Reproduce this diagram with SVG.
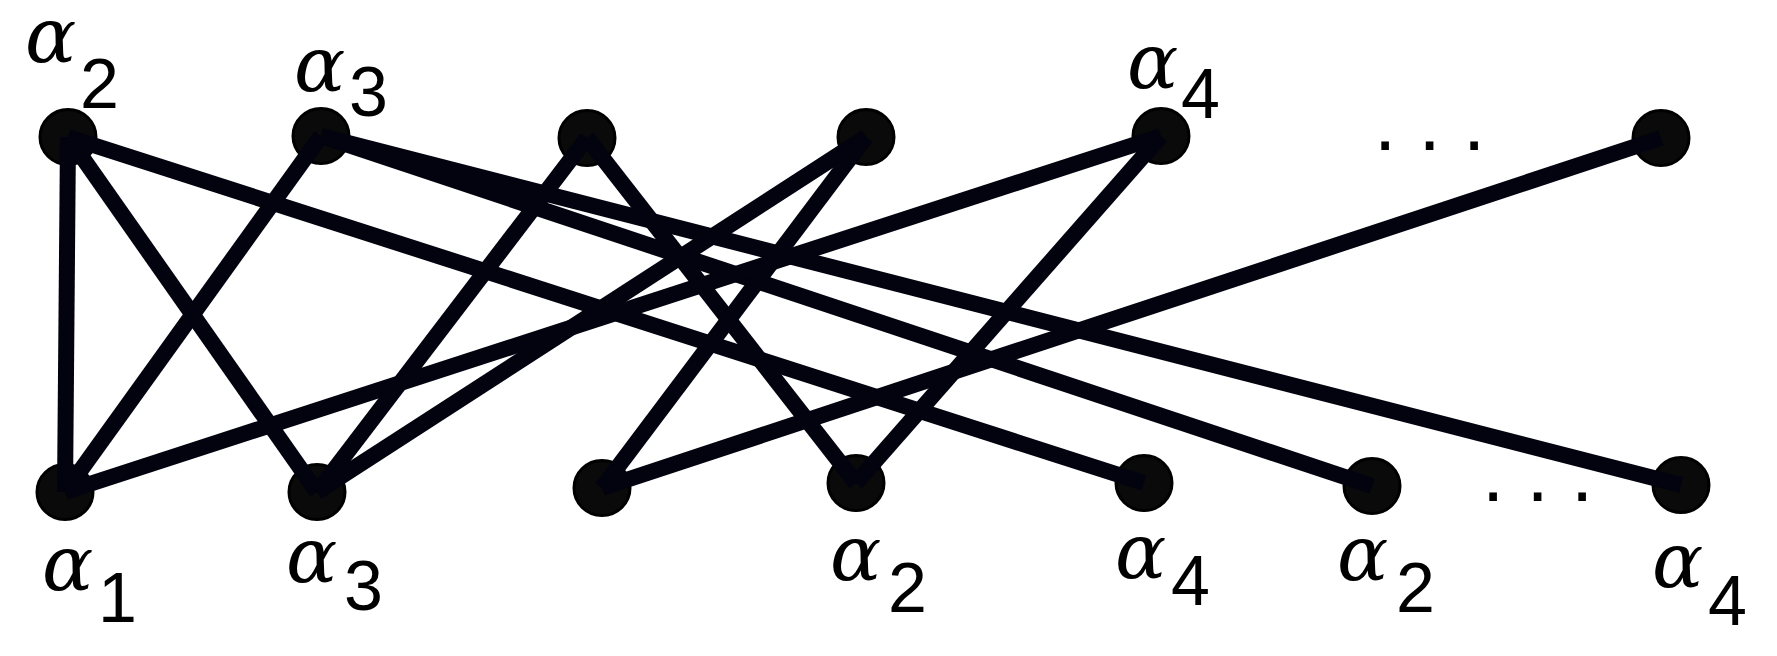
<svg xmlns="http://www.w3.org/2000/svg" width="1777" height="656" viewBox="0 0 1777 656">
<style>
.node{fill:#0a0a0a;stroke:#000;stroke-width:3}
.edge{stroke:#03030f;stroke-width:16;stroke-linecap:butt;fill:none}
.a{font-family:"DejaVu Serif","Liberation Serif",serif;font-style:italic;font-size:76px;fill:#000}
.d{font-family:"Liberation Sans",Arial,sans-serif;font-size:70px;fill:#000}
.dots{font-family:"Liberation Sans",Arial,sans-serif;font-size:80px;fill:#000}
</style>
<rect width="1777" height="656" fill="#fff"/>
<g id="T1"><ellipse class="node" cx="68" cy="137" rx="28" ry="27.5"/><text class="a" x="25" y="62">α</text><text class="d" x="80" y="108">2</text></g>
<g id="T2"><ellipse class="node" cx="321" cy="136" rx="28" ry="27.5"/><text class="a" x="294" y="91">α</text><text class="d" x="349" y="116">3</text></g>
<g id="T3"><ellipse class="node" cx="587" cy="138" rx="28" ry="27.5"/></g>
<g id="T4"><ellipse class="node" cx="866" cy="137" rx="28" ry="27.5"/></g>
<g id="T5"><ellipse class="node" cx="1161" cy="136" rx="28" ry="27.5"/><text class="a" x="1127" y="88">α</text><text class="d" x="1181" y="118">4</text></g>
<g id="T6"><ellipse class="node" cx="1661" cy="138" rx="28" ry="27.5"/></g>
<g id="B1"><ellipse class="node" cx="65" cy="492" rx="28" ry="27.5"/><text class="a" x="42" y="590">α</text><text class="d" x="98" y="622">1</text></g>
<g id="B2"><ellipse class="node" cx="317" cy="492" rx="28" ry="27.5"/><text class="a" x="286" y="582">α</text><text class="d" x="344" y="610">3</text></g>
<g id="B3"><ellipse class="node" cx="602" cy="488" rx="28" ry="27.5"/></g>
<g id="B4"><ellipse class="node" cx="856" cy="483" rx="28" ry="27.5"/><text class="a" x="830" y="580">α</text><text class="d" x="888" y="612">2</text></g>
<g id="B5"><ellipse class="node" cx="1144" cy="483" rx="28" ry="27.5"/><text class="a" x="1115" y="578">α</text><text class="d" x="1171" y="605">4</text></g>
<g id="B6"><ellipse class="node" cx="1372" cy="486" rx="28" ry="27.5"/><text class="a" x="1337" y="580">α</text><text class="d" x="1396" y="612">2</text></g>
<g id="B7"><ellipse class="node" cx="1681" cy="485" rx="28" ry="27.5"/><text class="a" x="1652" y="587">α</text><text class="d" x="1708" y="625">4</text></g>
<g id="ellipsis-top"><text class="dots" x="1374" y="150">. . .</text></g>
<g id="ellipsis-bottom"><text class="dots" x="1482" y="501">. . .</text></g>
<g id="connectors">
<line class="edge" x1="68" y1="137" x2="65" y2="492"/>
<line class="edge" x1="68" y1="137" x2="317" y2="492"/>
<line class="edge" x1="68" y1="137" x2="1144" y2="483"/>
<line class="edge" x1="321" y1="136" x2="65" y2="492"/>
<line class="edge" x1="321" y1="136" x2="1372" y2="486"/>
<line class="edge" x1="321" y1="136" x2="1681" y2="485"/>
<line class="edge" x1="587" y1="138" x2="317" y2="492"/>
<line class="edge" x1="587" y1="138" x2="856" y2="483"/>
<line class="edge" x1="866" y1="137" x2="317" y2="492"/>
<line class="edge" x1="866" y1="137" x2="602" y2="488"/>
<line class="edge" x1="1161" y1="136" x2="65" y2="492"/>
<line class="edge" x1="1161" y1="136" x2="856" y2="483"/>
<line class="edge" x1="1661" y1="138" x2="602" y2="488"/>
</g>
</svg>
